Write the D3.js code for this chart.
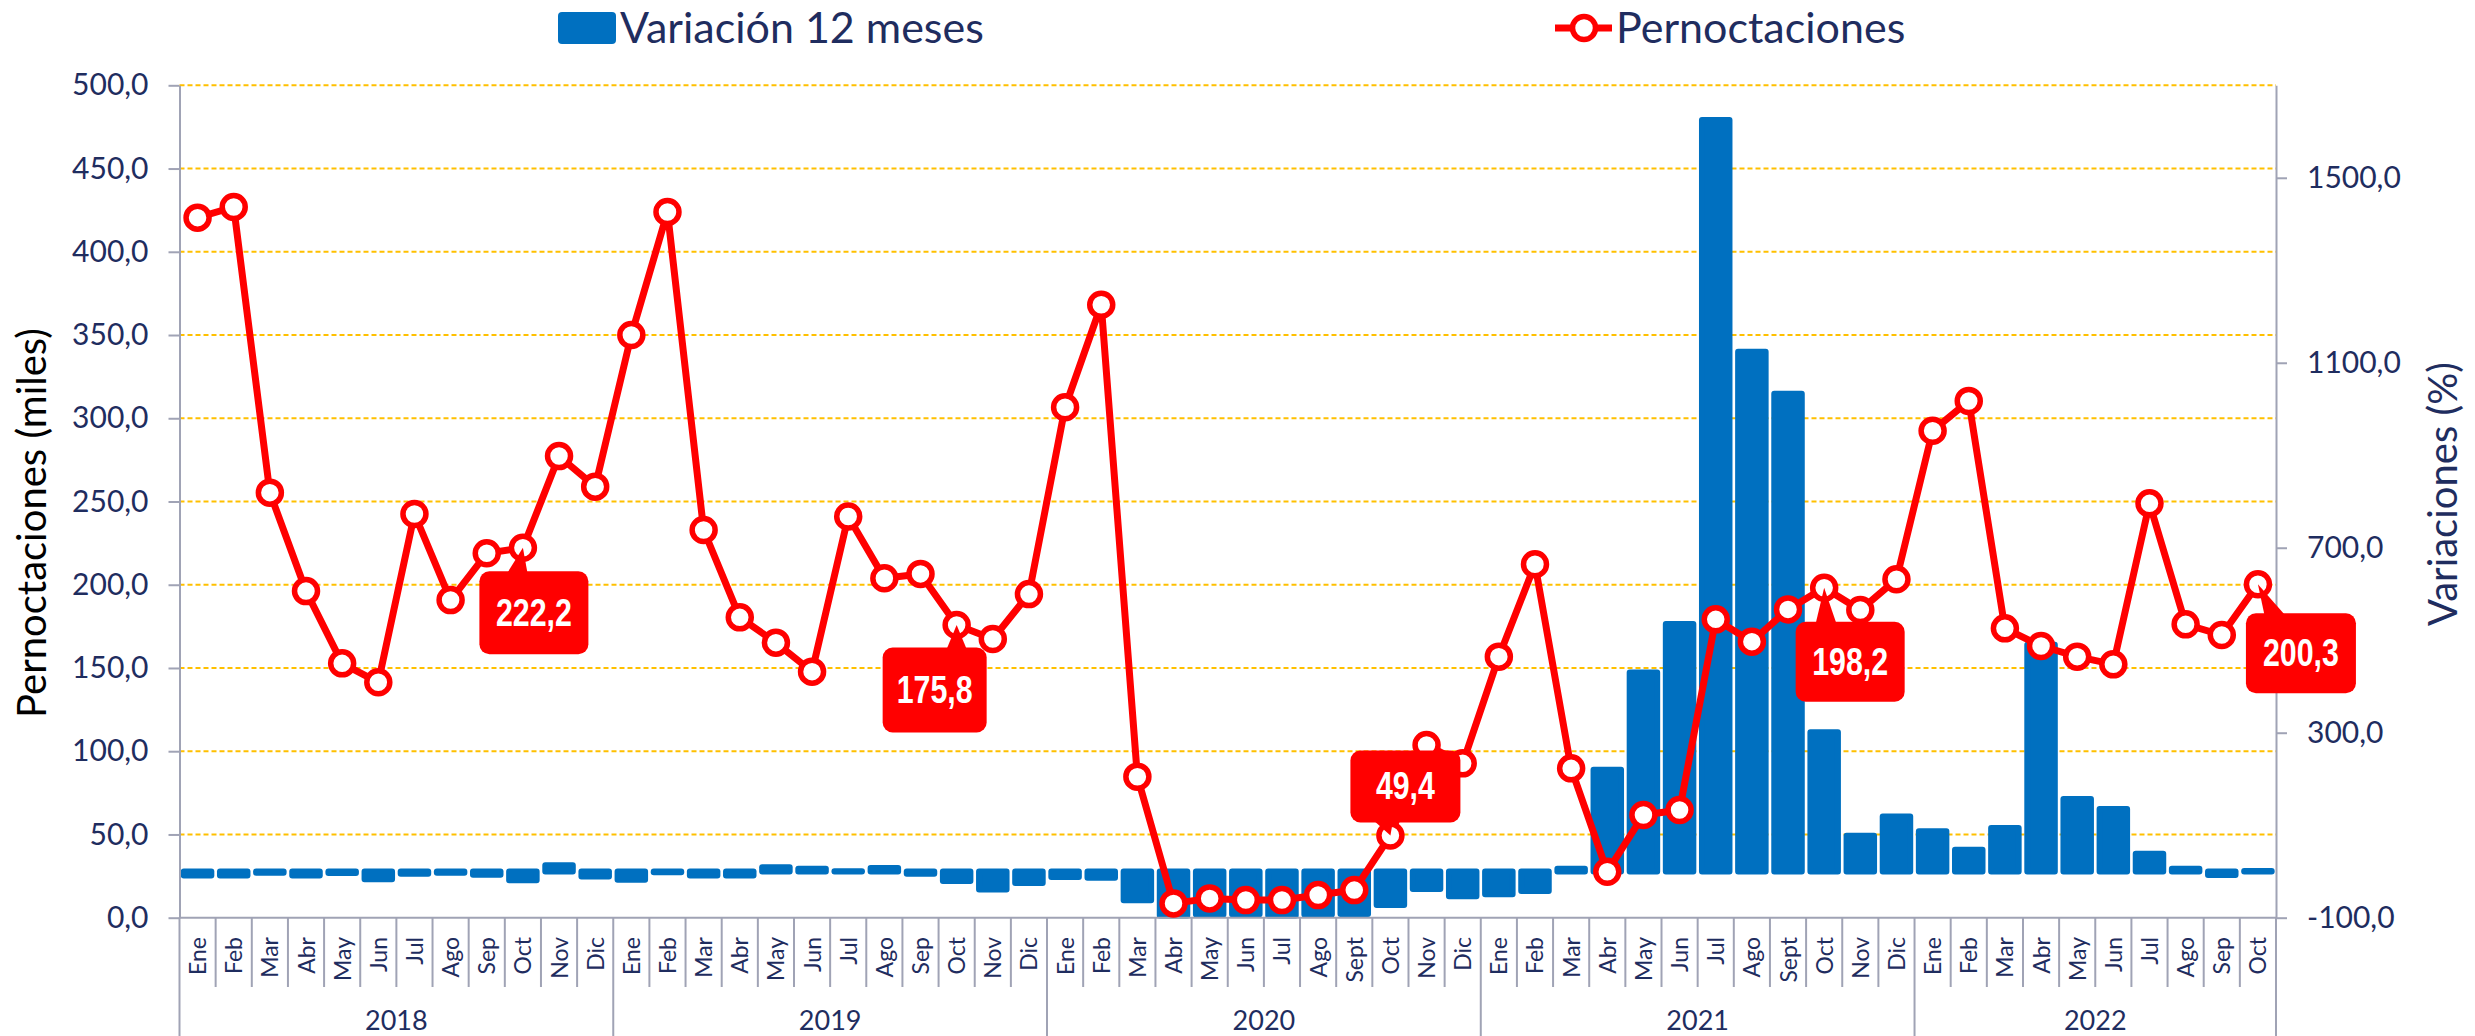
<!DOCTYPE html>
<html>
<head>
<meta charset="utf-8">
<script src="https://cdn.jsdelivr.net/npm/d3@7"></script>
<style>
  body { margin: 0; background: #fff; }
  svg { display: block; }
  text { font-family: Lato, "Open Sans", sans-serif; }
</style>
</head>
<body>
<div id="chart"></div>
<script>
const months = [
  "Ene","Feb","Mar","Abr","May","Jun","Jul","Ago","Sep","Oct","Nov","Dic",
  "Ene","Feb","Mar","Abr","May","Jun","Jul","Ago","Sep","Oct","Nov","Dic",
  "Ene","Feb","Mar","Abr","May","Jun","Jul","Ago","Sept","Oct","Nov","Dic",
  "Ene","Feb","Mar","Abr","May","Jun","Jul","Ago","Sept","Oct","Nov","Dic",
  "Ene","Feb","Mar","Abr","May","Jun","Jul","Ago","Sep","Oct"
];
const years = ["2018", "2019", "2020", "2021", "2022"];
const yearLength = [12, 12, 12, 12, 10];

// pernoctaciones (miles), eje izquierdo
const pernoctaciones = [
  420.5, 426.9, 255.3, 196.2, 152.8, 141.4, 242.5, 190.8, 218.9, 222.2, 277.3, 258.9,
  350.0, 423.9, 232.9, 180.4, 165.2, 147.8, 241.0, 203.9, 206.5, 175.8, 167.4, 194.4,
  306.6, 368.2, 84.7, 8.6, 11.6, 10.6, 10.6, 13.6, 16.6, 49.4, 103.7, 92.7,
  156.8, 212.3, 89.7, 27.6, 61.7, 64.7, 179.2, 165.8, 185.2, 198.2, 184.8, 203.3,
  292.5, 310.4, 173.8, 163.2, 156.8, 152.2, 248.9, 176.2, 169.8, 200.3
];
// variación 12 meses (%), eje derecho
const variacion = [
  -9, -9, -2.6, -9, -3.2, -17, -4.7, -2.6, -7, -19, 13.4, -11,
  -17.7, -1.8, -9, -9, 9, 6, 0.5, 7.5, -4.7, -20.5, -39, -25,
  -12, -13.4, -62, -95.2, -93, -92.8, -95.4, -93.3, -92, -72.4, -37.8, -53.6,
  -49.3, -42, 6, 220, 430, 535, 1625, 1124, 1033, 301, 77, 119,
  86.7, 47, 94, 490, 156.5, 135, 38.5, 6, -7.6, 1
];
const leftTicks = [0, 50, 100, 150, 200, 250, 300, 350, 400, 450, 500];
const rightTicks = [-100, 300, 700, 1100, 1500];

// etiquetas destacadas: índice del mes, desplazamiento de la caja
const callouts = [
  { i: 9,  dx: 11,  dy: 65,  w: 109, h: 83, bx: -6 },
  { i: 21, dx: -22, dy: 65,  w: 104, h: 85, bx: 0 },
  { i: 33, dx: 15,  dy: -49, w: 110, h: 72, bx: -8 },
  { i: 45, dx: 26,  dy: 74,  w: 109, h: 80, bx: 2 },
  { i: 57, dx: 43,  dy: 69,  w: 110, h: 80, bx: 18 }
];

const width = 2475, height = 1036;
const navy = "#1F2D5F", grey = "#A0A3B5", blue = "#0070C0", red = "#FF0000";
const fmt = d => d3.format(".1f")(d).replace(".", ",").replace("\u2212", "-");

const svg = d3.select("#chart").append("svg")
  .attr("width", width).attr("height", height);

const x = d3.scaleBand().domain(d3.range(months.length)).range([179.5, 2276]);
const yL = d3.scaleLinear().domain([0, 500]).range([917.7, 85.3]);
const yR = d3.scaleLinear().domain([-100, 1700]).range([917.7, 85.3]);
const cx = i => x(i) + x.bandwidth() / 2;

// gridlines
svg.append("g").selectAll("line").data(leftTicks.filter(d => d > 0)).enter().append("line")
  .attr("x1", 179.5).attr("x2", 2276)
  .attr("y1", d => yL(d)).attr("y2", d => yL(d))
  .attr("stroke", "#FFC000").attr("stroke-width", 2).attr("stroke-dasharray", "5,3");

// bars
const y0 = yR(0);
svg.append("g").selectAll("rect").data(variacion).enter().append("rect")
  .attr("x", (d, i) => cx(i) - 13.75)
  .attr("width", 27.5)
  .attr("y", d => Math.min(yR(d), y0))
  .attr("height", d => Math.abs(yR(d) - y0))
  .attr("fill", blue).attr("stroke", blue)
  .attr("stroke-width", 6).attr("stroke-linejoin", "round");

// axes
const axL = svg.append("g").attr("transform", "translate(179.5,0)")
  .call(d3.axisLeft(yL).tickValues(leftTicks).tickFormat(fmt).tickSize(11).tickSizeOuter(0).tickPadding(20));
const axR = svg.append("g").attr("transform", "translate(2276,0)")
  .call(d3.axisRight(yR).tickValues(rightTicks).tickFormat(fmt).tickSize(11).tickSizeOuter(0).tickPadding(20));
[axL, axR].forEach(a => {
  a.select(".domain").attr("stroke", grey).attr("stroke-width", 2);
  a.selectAll(".tick line").attr("stroke", grey).attr("stroke-width", 2);
  a.selectAll(".tick text").attr("fill", navy).style("font-size", "30px")
    .style("font-family", "Lato, sans-serif");
});

// category axis
const cat = svg.append("g");
cat.append("line").attr("x1", 179.5).attr("x2", 2276).attr("y1", 917.7).attr("y2", 917.7)
  .attr("stroke", grey).attr("stroke-width", 2);
const yearStarts = [0];
yearLength.forEach((n, k) => yearStarts.push(yearStarts[k] + n));
d3.range(months.length + 1).forEach(i => {
  const xx = i < months.length ? x(i) : x.range()[1];
  cat.append("line").attr("x1", xx).attr("x2", xx).attr("y1", 917.7)
    .attr("y2", yearStarts.includes(i) ? 1036 : 987)
    .attr("stroke", grey).attr("stroke-width", 2);
});
cat.selectAll("text.month").data(months).enter().append("text")
  .attr("class", "month")
  .attr("transform", (d, i) => `translate(${cx(i) + 8.5},937) rotate(-90)`)
  .attr("text-anchor", "end")
  .attr("fill", navy).style("font-size", "23px")
  .text(d => d);
cat.selectAll("text.year").data(years).enter().append("text")
  .attr("class", "year")
  .attr("x", (d, k) => (x(yearStarts[k]) + (k + 1 < years.length ? x(yearStarts[k + 1]) : x.range()[1])) / 2)
  .attr("y", 1030)
  .attr("text-anchor", "middle")
  .attr("fill", navy).style("font-size", "27px")
  .text(d => d);

// line + markers
const line = d3.line().x((d, i) => cx(i)).y(d => yL(d));
svg.append("path").datum(pernoctaciones).attr("d", line)
  .attr("fill", "none").attr("stroke", red).attr("stroke-width", 7).attr("stroke-linejoin", "round");
svg.append("g").selectAll("circle").data(pernoctaciones).enter().append("circle")
  .attr("cx", (d, i) => cx(i)).attr("cy", d => yL(d)).attr("r", 11.5)
  .attr("fill", "#fff").attr("stroke", red).attr("stroke-width", 5.5);

// callouts
const cg = svg.append("g");
callouts.forEach(c => {
  const px = cx(c.i), py = yL(pernoctaciones[c.i]);
  const bxc = px + c.dx, byc = py + c.dy;
  const top = byc - c.h / 2, bottom = byc + c.h / 2;
  const edge = c.dy > 0 ? top + 4 : bottom - 4;
  const base = px + c.bx;
  cg.append("path")
    .attr("d", `M${px},${py}L${base - 11},${edge}L${base + 11},${edge}Z`)
    .attr("fill", red);
  cg.append("rect")
    .attr("x", bxc - c.w / 2).attr("y", top).attr("width", c.w).attr("height", c.h)
    .attr("rx", 10).attr("fill", red);
  const label = fmt(pernoctaciones[c.i]);
  cg.append("text")
    .attr("x", bxc).attr("y", byc + 13)
    .attr("text-anchor", "middle")
    .attr("textLength", label.length > 4 ? 76 : 59)
    .attr("lengthAdjust", "spacingAndGlyphs")
    .attr("fill", "#fff")
    .style("font-family", "'Liberation Sans Narrow', 'Liberation Sans', Arial, sans-serif")
    .style("font-weight", "bold").style("font-size", "38px")
    .text(label);
});

// axis titles
svg.append("text")
  .attr("transform", "translate(46,523) rotate(-90)")
  .attr("text-anchor", "middle").attr("fill", "#000")
  .style("font-size", "40px")
  .text("Pernoctaciones (miles)");
svg.append("text")
  .attr("transform", "translate(2457,494) rotate(-90)")
  .attr("text-anchor", "middle").attr("fill", navy)
  .style("font-size", "40px")
  .text("Variaciones (%)");

// legend
const lg = svg.append("g");
lg.append("rect").attr("x", 558).attr("y", 12).attr("width", 58).attr("height", 32)
  .attr("rx", 4).attr("fill", blue);
lg.append("text").attr("x", 620).attr("y", 42.7).attr("fill", navy)
  .style("font-size", "43px").text("Variación 12 meses");
lg.append("line").attr("x1", 1555).attr("x2", 1612).attr("y1", 28).attr("y2", 28)
  .attr("stroke", red).attr("stroke-width", 7);
lg.append("circle").attr("cx", 1584).attr("cy", 28).attr("r", 11.5)
  .attr("fill", "#fff").attr("stroke", red).attr("stroke-width", 5.5);
lg.append("text").attr("x", 1616).attr("y", 42.7).attr("fill", navy)
  .style("font-size", "43px").text("Pernoctaciones");
</script>
</body>
</html>
